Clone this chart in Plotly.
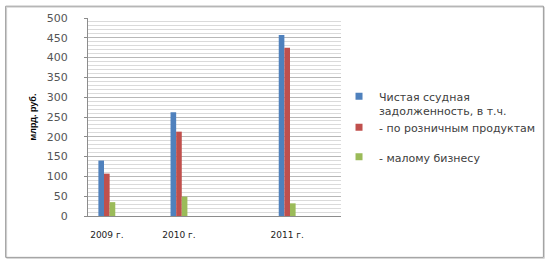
import plotly.graph_objects as go

years = ["2009 г.", "2010 г.", "2011 г."]
year_pos = [0, 1, 2.5]
series_names = ["Чистая ссудная<br>задолженность, в т.ч.",
                "- по розничным продуктам",
                "- малому бизнесу"]
net_loans = [140, 262, 457]
retail = [107, 213, 425]
small_business = [35, 49, 32]
colors = ["#4F81BD", "#C0504D", "#9BBB59"]

W, H = 553, 267
L, R, T, B = 88, 343, 15, 216  # plot area in px


def px_x(p):
    return (p - L) / (R - L)


def px_y(p):
    return (B - p) / (B - T)


fig = go.Figure()
for i, (name, vals) in enumerate(zip(series_names, [net_loans, retail, small_business])):
    fig.add_trace(go.Bar(x=year_pos, y=vals, name=name, marker_color=colors[i],
                         marker_line_width=0, showlegend=False,
                         legendgroup="g%d" % i))

legend_y = [102, 126.7, 156.7]
legend_keys = ["legend", "legend2", "legend3"]
for i, name in enumerate(series_names):
    fig.add_trace(go.Scatter(x=[None], y=[None], mode="markers", name=name,
                             marker=dict(symbol="square", size=7, color=colors[i]),
                             legendgroup="g%d" % i, legend=legend_keys[i],
                             showlegend=True))

legend_font = dict(family="DejaVu Sans", size=11, color="#404040")
leg_common = dict(xanchor="left", yanchor="middle", x=px_x(341), valign="top",
                  bgcolor="rgba(0,0,0,0)", font=legend_font, itemsizing="trace",
                  tracegroupgap=0, entrywidth=120, entrywidthmode="pixels")

fig.update_layout(
    width=W, height=H,
    margin=dict(l=L, r=W - R, t=T, b=H - B, pad=0),
    paper_bgcolor="white", plot_bgcolor="white",
    barmode="group", bargap=0.766, bargroupgap=0,
    legend=dict(y=px_y(legend_y[0]), **leg_common),
    legend2=dict(y=px_y(legend_y[1]), **leg_common),
    legend3=dict(y=px_y(legend_y[2]), **leg_common),
    xaxis=dict(range=[-0.261, 3.246], tickmode="array", tickvals=year_pos,
               ticktext=years, showgrid=False, zeroline=False, showline=True,
               linecolor="#8c8c8c", linewidth=1, ticks="",
               ticklabelstandoff=10,
               tickfont=dict(family="DejaVu Sans", size=9, color="#222222")),
    yaxis=dict(range=[0, 500], dtick=50, tick0=0, showgrid=True,
               gridcolor="#b8b8b8", gridwidth=1,
               minor=dict(dtick=10, showgrid=True, gridcolor="#dadada", gridwidth=1),
               zeroline=True, zerolinecolor="#8c8c8c", zerolinewidth=1,
               showline=True, linecolor="#8c8c8c", linewidth=1,
               ticks="outside", ticklen=3, tickcolor="#8c8c8c",
               ticklabelstandoff=14,
               tickfont=dict(family="DejaVu Sans", size=11, color="#555555"),
               title=dict(text="млрд. руб.", standoff=8,
                          font=dict(family="Liberation Sans", size=9, color="#000000",
                                    weight="bold"))),
    shapes=[
        dict(type="rect", xref="paper", yref="paper",
             x0=px_x(6), x1=px_x(548), y0=px_y(259), y1=px_y(4),
             line=dict(color="#d0d0d0", width=1), layer="below"),
        dict(type="rect", xref="paper", yref="paper",
             x0=px_x(5), x1=px_x(547), y0=px_y(258), y1=px_y(3),
             line=dict(color="#9a9a9a", width=1), layer="below"),
    ],
)

fig.write_html("out.html")
